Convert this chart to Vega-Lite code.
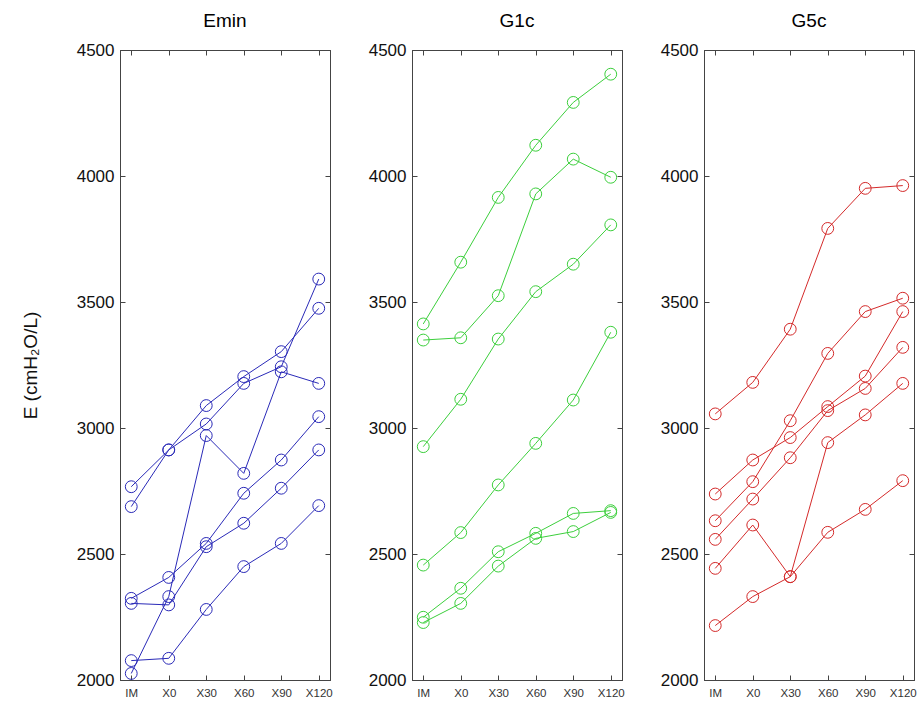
{
  "$schema": "https://vega.github.io/schema/vega-lite/v6.json",
  "background": "white",
  "padding": {"left": 20, "top": 11, "right": 5, "bottom": 0},
  "config": {"font": "Liberation Sans", "view": {"stroke": "#444", "strokeWidth": 1}, "concat": {"spacing": 34}},
  "datasets": {
    "d": [
      {"group": "Emin", "subject": "S1", "time": "IM", "E": 2767}, {"group": "Emin", "subject": "S1", "time": "X0", "E": 2913}, {"group": "Emin", "subject": "S1", "time": "X30", "E": 3089}, {"group": "Emin", "subject": "S1", "time": "X60", "E": 3204}, {"group": "Emin", "subject": "S1", "time": "X90", "E": 3303}, {"group": "Emin", "subject": "S1", "time": "X120", "E": 3475},
      {"group": "Emin", "subject": "S2", "time": "IM", "E": 2688}, {"group": "Emin", "subject": "S2", "time": "X0", "E": 2913}, {"group": "Emin", "subject": "S2", "time": "X30", "E": 3016}, {"group": "Emin", "subject": "S2", "time": "X60", "E": 3177}, {"group": "Emin", "subject": "S2", "time": "X90", "E": 3243}, {"group": "Emin", "subject": "S2", "time": "X120", "E": 3591},
      {"group": "Emin", "subject": "S3", "time": "IM", "E": 2324}, {"group": "Emin", "subject": "S3", "time": "X0", "E": 2407}, {"group": "Emin", "subject": "S3", "time": "X30", "E": 2542}, {"group": "Emin", "subject": "S3", "time": "X60", "E": 2741}, {"group": "Emin", "subject": "S3", "time": "X90", "E": 2873}, {"group": "Emin", "subject": "S3", "time": "X120", "E": 3045},
      {"group": "Emin", "subject": "S4", "time": "IM", "E": 2304}, {"group": "Emin", "subject": "S4", "time": "X0", "E": 2298}, {"group": "Emin", "subject": "S4", "time": "X30", "E": 2529}, {"group": "Emin", "subject": "S4", "time": "X60", "E": 2622}, {"group": "Emin", "subject": "S4", "time": "X90", "E": 2761}, {"group": "Emin", "subject": "S4", "time": "X120", "E": 2913},
      {"group": "Emin", "subject": "S5", "time": "IM", "E": 2026}, {"group": "Emin", "subject": "S5", "time": "X0", "E": 2331}, {"group": "Emin", "subject": "S5", "time": "X30", "E": 2970}, {"group": "Emin", "subject": "S5", "time": "X60", "E": 2820}, {"group": "Emin", "subject": "S5", "time": "X90", "E": 3223}, {"group": "Emin", "subject": "S5", "time": "X120", "E": 3177},
      {"group": "Emin", "subject": "S6", "time": "IM", "E": 2077}, {"group": "Emin", "subject": "S6", "time": "X0", "E": 2086}, {"group": "Emin", "subject": "S6", "time": "X30", "E": 2280}, {"group": "Emin", "subject": "S6", "time": "X60", "E": 2450}, {"group": "Emin", "subject": "S6", "time": "X90", "E": 2542}, {"group": "Emin", "subject": "S6", "time": "X120", "E": 2692},

      {"group": "G1c", "subject": "S1", "time": "IM", "E": 3413}, {"group": "G1c", "subject": "S1", "time": "X0", "E": 3658}, {"group": "G1c", "subject": "S1", "time": "X30", "E": 3915}, {"group": "G1c", "subject": "S1", "time": "X60", "E": 4122}, {"group": "G1c", "subject": "S1", "time": "X90", "E": 4292}, {"group": "G1c", "subject": "S1", "time": "X120", "E": 4404},
      {"group": "G1c", "subject": "S2", "time": "IM", "E": 3349}, {"group": "G1c", "subject": "S2", "time": "X0", "E": 3358}, {"group": "G1c", "subject": "S2", "time": "X30", "E": 3525}, {"group": "G1c", "subject": "S2", "time": "X60", "E": 3929}, {"group": "G1c", "subject": "S2", "time": "X90", "E": 4067}, {"group": "G1c", "subject": "S2", "time": "X120", "E": 3995},
      {"group": "G1c", "subject": "S3", "time": "IM", "E": 2926}, {"group": "G1c", "subject": "S3", "time": "X0", "E": 3114}, {"group": "G1c", "subject": "S3", "time": "X30", "E": 3353}, {"group": "G1c", "subject": "S3", "time": "X60", "E": 3541}, {"group": "G1c", "subject": "S3", "time": "X90", "E": 3650}, {"group": "G1c", "subject": "S3", "time": "X120", "E": 3806},
      {"group": "G1c", "subject": "S4", "time": "IM", "E": 2456}, {"group": "G1c", "subject": "S4", "time": "X0", "E": 2585}, {"group": "G1c", "subject": "S4", "time": "X30", "E": 2774}, {"group": "G1c", "subject": "S4", "time": "X60", "E": 2939}, {"group": "G1c", "subject": "S4", "time": "X90", "E": 3111}, {"group": "G1c", "subject": "S4", "time": "X120", "E": 3380},
      {"group": "G1c", "subject": "S5", "time": "IM", "E": 2249}, {"group": "G1c", "subject": "S5", "time": "X0", "E": 2364}, {"group": "G1c", "subject": "S5", "time": "X30", "E": 2509}, {"group": "G1c", "subject": "S5", "time": "X60", "E": 2582}, {"group": "G1c", "subject": "S5", "time": "X90", "E": 2661}, {"group": "G1c", "subject": "S5", "time": "X120", "E": 2672},
      {"group": "G1c", "subject": "S6", "time": "IM", "E": 2228}, {"group": "G1c", "subject": "S6", "time": "X0", "E": 2304}, {"group": "G1c", "subject": "S6", "time": "X30", "E": 2452}, {"group": "G1c", "subject": "S6", "time": "X60", "E": 2562}, {"group": "G1c", "subject": "S6", "time": "X90", "E": 2589}, {"group": "G1c", "subject": "S6", "time": "X120", "E": 2665},

      {"group": "G5c", "subject": "S1", "time": "IM", "E": 3056}, {"group": "G5c", "subject": "S1", "time": "X0", "E": 3181}, {"group": "G5c", "subject": "S1", "time": "X30", "E": 3392}, {"group": "G5c", "subject": "S1", "time": "X60", "E": 3792}, {"group": "G5c", "subject": "S1", "time": "X90", "E": 3951}, {"group": "G5c", "subject": "S1", "time": "X120", "E": 3962},
      {"group": "G5c", "subject": "S2", "time": "IM", "E": 2632}, {"group": "G5c", "subject": "S2", "time": "X0", "E": 2787}, {"group": "G5c", "subject": "S2", "time": "X30", "E": 3029}, {"group": "G5c", "subject": "S2", "time": "X60", "E": 3296}, {"group": "G5c", "subject": "S2", "time": "X90", "E": 3462}, {"group": "G5c", "subject": "S2", "time": "X120", "E": 3515},
      {"group": "G5c", "subject": "S3", "time": "IM", "E": 2738}, {"group": "G5c", "subject": "S3", "time": "X0", "E": 2873}, {"group": "G5c", "subject": "S3", "time": "X30", "E": 2962}, {"group": "G5c", "subject": "S3", "time": "X60", "E": 3085}, {"group": "G5c", "subject": "S3", "time": "X90", "E": 3206}, {"group": "G5c", "subject": "S3", "time": "X120", "E": 3462},
      {"group": "G5c", "subject": "S4", "time": "IM", "E": 2558}, {"group": "G5c", "subject": "S4", "time": "X0", "E": 2718}, {"group": "G5c", "subject": "S4", "time": "X30", "E": 2882}, {"group": "G5c", "subject": "S4", "time": "X60", "E": 3069}, {"group": "G5c", "subject": "S4", "time": "X90", "E": 3157}, {"group": "G5c", "subject": "S4", "time": "X120", "E": 3320},
      {"group": "G5c", "subject": "S5", "time": "IM", "E": 2443}, {"group": "G5c", "subject": "S5", "time": "X0", "E": 2615}, {"group": "G5c", "subject": "S5", "time": "X30", "E": 2410}, {"group": "G5c", "subject": "S5", "time": "X60", "E": 2942}, {"group": "G5c", "subject": "S5", "time": "X90", "E": 3052}, {"group": "G5c", "subject": "S5", "time": "X120", "E": 3177},
      {"group": "G5c", "subject": "S6", "time": "IM", "E": 2216}, {"group": "G5c", "subject": "S6", "time": "X0", "E": 2331}, {"group": "G5c", "subject": "S6", "time": "X30", "E": 2410}, {"group": "G5c", "subject": "S6", "time": "X60", "E": 2586}, {"group": "G5c", "subject": "S6", "time": "X90", "E": 2677}, {"group": "G5c", "subject": "S6", "time": "X120", "E": 2791}
    ]
  },
  "hconcat": [
    {
      "width": 210, "height": 630,
      "title": {"text": "Emin", "fontSize": 19, "fontWeight": "normal", "offset": 10},
      "data": {"name": "d"},
      "transform": [{"filter": "datum.group === 'Emin'"}],
      "layer": [
        {"mark": {"type": "line", "color": "#2a2ab8", "strokeWidth": 1},
         "encoding": {
           "x": {"field": "time", "type": "ordinal", "sort": ["IM", "X0", "X30", "X60", "X90", "X120"], "scale": {"type": "point", "padding": 0.3},
                 "axis": {"title": null, "labelAngle": 0, "labelFontSize": 11.5, "labelColor": "#333", "tickSize": -5, "tickColor": "#444", "domainColor": "#444", "labelPadding": 12}},
           "y": {"field": "E", "type": "quantitative", "scale": {"domain": [2000, 4500], "nice": false, "zero": false},
                 "axis": {"title": "E (cmH₂O/L)", "titleFontSize": 19, "titleFontWeight": "normal", "titleColor": "#111", "titlePadding": 36, "values": [2000, 2500, 3000, 3500, 4000, 4500], "format": "d", "labelFontSize": 17, "labelColor": "#111", "tickSize": -5, "tickColor": "#444", "domainColor": "#444", "grid": false, "labelPadding": 11}},
           "detail": {"field": "subject"},
           "order": {"value": null}
         }},
        {"mark": {"type": "point", "shape": "circle", "filled": false, "size": 140, "color": "#2a2ab8", "strokeWidth": 1, "opacity": 1},
         "encoding": {
           "x": {"field": "time", "type": "ordinal", "sort": ["IM", "X0", "X30", "X60", "X90", "X120"], "axis": null},
           "y": {"field": "E", "type": "quantitative", "axis": null}
         }},
        {"mark": {"type": "point", "opacity": 0},
         "encoding": {
           "x": {"field": "time", "type": "ordinal", "sort": ["IM", "X0", "X30", "X60", "X90", "X120"], "axis": {"orient": "top", "title": null, "labels": false, "tickSize": -5, "tickColor": "#444", "domainColor": "#444"}},
           "y": {"field": "E", "type": "quantitative", "axis": {"orient": "right", "title": null, "labels": false, "values": [2000, 2500, 3000, 3500, 4000, 4500], "tickSize": -5, "tickColor": "#444", "domainColor": "#444", "grid": false}}
         }}
      ],
      "resolve": {"axis": {"x": "independent", "y": "independent"}}
    },
    {
      "width": 210, "height": 630,
      "title": {"text": "G1c", "fontSize": 19, "fontWeight": "normal", "offset": 10},
      "data": {"name": "d"},
      "transform": [{"filter": "datum.group === 'G1c'"}],
      "layer": [
        {"mark": {"type": "line", "color": "#3ccf3c", "strokeWidth": 1},
         "encoding": {
           "x": {"field": "time", "type": "ordinal", "sort": ["IM", "X0", "X30", "X60", "X90", "X120"], "scale": {"type": "point", "padding": 0.3},
                 "axis": {"title": null, "labelAngle": 0, "labelFontSize": 11.5, "labelColor": "#333", "tickSize": -5, "tickColor": "#444", "domainColor": "#444", "labelPadding": 12}},
           "y": {"field": "E", "type": "quantitative", "scale": {"domain": [2000, 4500], "nice": false, "zero": false},
                 "axis": {"title": null, "values": [2000, 2500, 3000, 3500, 4000, 4500], "format": "d", "labelFontSize": 17, "labelColor": "#111", "tickSize": -5, "tickColor": "#444", "domainColor": "#444", "grid": false, "labelPadding": 11}},
           "detail": {"field": "subject"},
           "order": {"value": null}
         }},
        {"mark": {"type": "point", "shape": "circle", "filled": false, "size": 140, "color": "#3ccf3c", "strokeWidth": 1, "opacity": 1},
         "encoding": {
           "x": {"field": "time", "type": "ordinal", "sort": ["IM", "X0", "X30", "X60", "X90", "X120"], "axis": null},
           "y": {"field": "E", "type": "quantitative", "axis": null}
         }},
        {"mark": {"type": "point", "opacity": 0},
         "encoding": {
           "x": {"field": "time", "type": "ordinal", "sort": ["IM", "X0", "X30", "X60", "X90", "X120"], "axis": {"orient": "top", "title": null, "labels": false, "tickSize": -5, "tickColor": "#444", "domainColor": "#444"}},
           "y": {"field": "E", "type": "quantitative", "axis": {"orient": "right", "title": null, "labels": false, "values": [2000, 2500, 3000, 3500, 4000, 4500], "tickSize": -5, "tickColor": "#444", "domainColor": "#444", "grid": false}}
         }}
      ],
      "resolve": {"axis": {"x": "independent", "y": "independent"}}
    },
    {
      "width": 210, "height": 630,
      "title": {"text": "G5c", "fontSize": 19, "fontWeight": "normal", "offset": 10},
      "data": {"name": "d"},
      "transform": [{"filter": "datum.group === 'G5c'"}],
      "layer": [
        {"mark": {"type": "line", "color": "#d42a2a", "strokeWidth": 1},
         "encoding": {
           "x": {"field": "time", "type": "ordinal", "sort": ["IM", "X0", "X30", "X60", "X90", "X120"], "scale": {"type": "point", "padding": 0.3},
                 "axis": {"title": null, "labelAngle": 0, "labelFontSize": 11.5, "labelColor": "#333", "tickSize": -5, "tickColor": "#444", "domainColor": "#444", "labelPadding": 12}},
           "y": {"field": "E", "type": "quantitative", "scale": {"domain": [2000, 4500], "nice": false, "zero": false},
                 "axis": {"title": null, "values": [2000, 2500, 3000, 3500, 4000, 4500], "format": "d", "labelFontSize": 17, "labelColor": "#111", "tickSize": -5, "tickColor": "#444", "domainColor": "#444", "grid": false, "labelPadding": 11}},
           "detail": {"field": "subject"},
           "order": {"value": null}
         }},
        {"mark": {"type": "point", "shape": "circle", "filled": false, "size": 140, "color": "#d42a2a", "strokeWidth": 1, "opacity": 1},
         "encoding": {
           "x": {"field": "time", "type": "ordinal", "sort": ["IM", "X0", "X30", "X60", "X90", "X120"], "axis": null},
           "y": {"field": "E", "type": "quantitative", "axis": null}
         }},
        {"mark": {"type": "point", "opacity": 0},
         "encoding": {
           "x": {"field": "time", "type": "ordinal", "sort": ["IM", "X0", "X30", "X60", "X90", "X120"], "axis": {"orient": "top", "title": null, "labels": false, "tickSize": -5, "tickColor": "#444", "domainColor": "#444"}},
           "y": {"field": "E", "type": "quantitative", "axis": {"orient": "right", "title": null, "labels": false, "values": [2000, 2500, 3000, 3500, 4000, 4500], "tickSize": -5, "tickColor": "#444", "domainColor": "#444", "grid": false}}
         }}
      ],
      "resolve": {"axis": {"x": "independent", "y": "independent"}}
    }
  ]
}
